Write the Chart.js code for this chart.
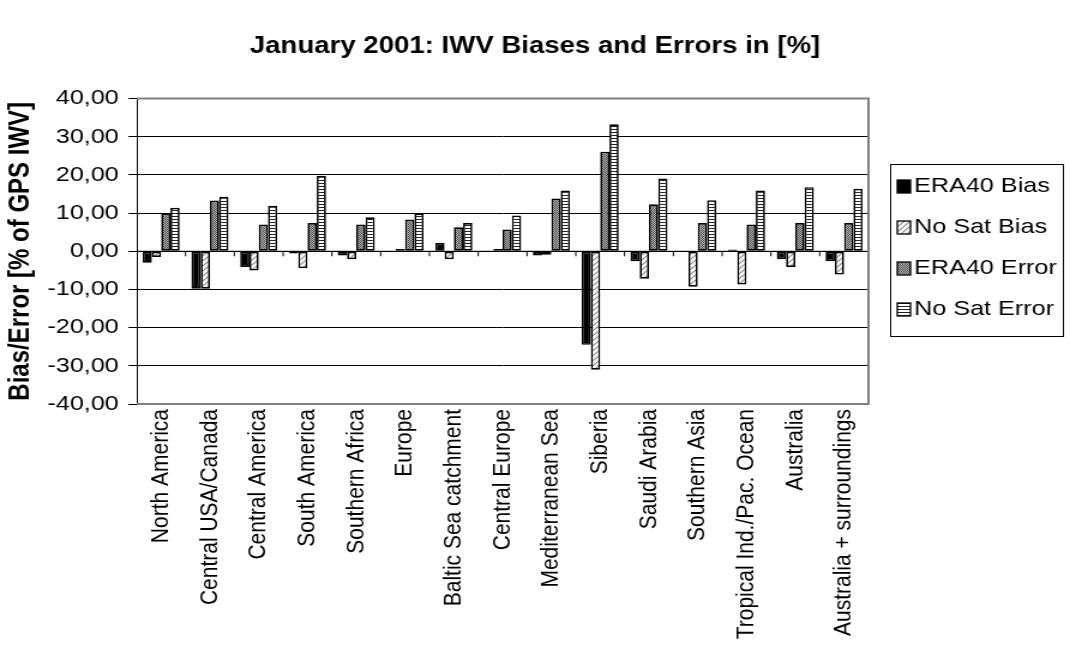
<!DOCTYPE html>
<html>
<head>
<meta charset="utf-8">
<script src="https://cdn.jsdelivr.net/npm/chart.js@4.4.0/dist/chart.umd.min.js"></script>
<style>
  html, body { margin: 0; padding: 0; background: #fff; overflow: hidden; }
  /* the original picture is stretched sideways, so the canvas is too */
  #chart { display: block; transform: scaleX(1.19955); transform-origin: 0 0; }
</style>
</head>
<body>
<canvas id="chart" width="892" height="646"></canvas>
<script>
const categories = [
  'North America', 'Central USA/Canada', 'Central America', 'South America',
  'Southern Africa', 'Europe', 'Baltic Sea catchment', 'Central Europe',
  'Mediterranean Sea', 'Siberia', 'Saudi Arabia', 'Southern Asia',
  'Tropical Ind./Pac. Ocean', 'Australia', 'Australia + surroundings'
];
const seriesNames = ['ERA40 Bias', 'No Sat Bias', 'ERA40 Error', 'No Sat Error'];
const era40Bias  = [-3.0, -9.8, -4.1, -0.6, -1.1, 0.0, 2.2, 0.0, -1.1, -24.5, -2.6, 0.0, 0.5, -2.1, -2.6];
const noSatBias  = [-1.5, -9.8, -5.0, -4.4, -2.1, 0.6, -2.1, 0.6, -0.9, -31.0, -7.2, -9.3, -8.7, -4.1, -6.1];
const era40Error = [9.9, 13.3, 7.0, 7.4, 7.0, 8.3, 6.3, 5.7, 13.8, 26.1, 12.3, 7.4, 7.0, 7.4, 7.4];
const noSatError = [11.4, 14.3, 11.9, 19.8, 8.9, 9.9, 7.4, 9.4, 15.9, 33.3, 19.1, 13.4, 15.9, 16.8, 16.4];
const yTicks = { min: -40, max: 40, step: 10 };

const FONT = 'Arial, "Liberation Sans", sans-serif';
Chart.defaults.font.family = FONT;
Chart.defaults.color = '#000';

// little tiles used as fill patterns
function makePattern(w, h, draw) {
  const c = document.createElement('canvas');
  c.width = w; c.height = h;
  const g = c.getContext('2d');
  draw(g, w, h);
  return g.createPattern(c, 'repeat');
}
const hatch = makePattern(5, 5, function(g, w, h) {
  g.fillStyle = '#fff'; g.fillRect(0, 0, w, h);
  g.strokeStyle = '#8c8c8c'; g.lineWidth = 1.2;
  g.beginPath();
  g.moveTo(-1, h + 1); g.lineTo(w + 1, -1);
  g.moveTo(-1, 1); g.lineTo(1, -1);
  g.moveTo(w - 1, h + 1); g.lineTo(w + 1, h - 1);
  g.stroke();
});
const stipple = makePattern(2, 2, function(g) {
  g.fillStyle = '#a6a6a6'; g.fillRect(0, 0, 2, 2);
  g.fillStyle = '#5c5c5c'; g.fillRect(0, 0, 1, 1); g.fillRect(1, 1, 1, 1);
});
const stripes = makePattern(2, 3, function(g) {
  g.fillStyle = '#fff'; g.fillRect(0, 0, 2, 3);
  g.fillStyle = '#222'; g.fillRect(0, 0, 2, 1);
});
const fills = ['#000', hatch, stipple, stripes];
const values = [era40Bias, noSatBias, era40Error, noSatError];

// zero line with little ticks between categories + grey plot frame
const framePlugin = {
  id: 'frame',
  afterDatasetsDraw(chart) {
    const ctx = chart.ctx, a = chart.chartArea, x = chart.scales.x, y = chart.scales.y;
    const y0 = y.getPixelForValue(0);
    ctx.save();
    ctx.strokeStyle = '#000';
    ctx.lineWidth = 1;
    ctx.beginPath();
    ctx.moveTo(a.left, y0); ctx.lineTo(a.right, y0);
    for (let i = 1; i < categories.length; i++) {
      const bx = (x.getPixelForValue(i - 1) + x.getPixelForValue(i)) / 2;
      ctx.moveTo(bx, y0); ctx.lineTo(bx, y0 + 5);
    }
    ctx.stroke();
    ctx.strokeStyle = '#808080';
    ctx.lineWidth = 2;
    ctx.beginPath();
    ctx.moveTo(a.left, a.top); ctx.lineTo(a.right, a.top);
    ctx.lineTo(a.right, a.bottom); ctx.lineTo(a.left, a.bottom);
    ctx.stroke();
    ctx.restore();
  }
};

// boxed legend on the right, like the excel one
const boxLegend = {
  id: 'boxLegend',
  afterDraw(chart, args, opts) {
    const ctx = chart.ctx;
    ctx.save();
    ctx.fillStyle = '#fff';
    ctx.fillRect(opts.left, opts.top, opts.width, opts.height);
    ctx.strokeStyle = '#000';
    ctx.lineWidth = 1;
    ctx.strokeRect(opts.left + 0.5, opts.top + 0.5, opts.width, opts.height);
    ctx.font = '21px ' + FONT;
    ctx.textBaseline = 'middle';
    chart.data.datasets.forEach(function(ds, i) {
      const cy = opts.top + opts.first + i * opts.gap;
      ctx.fillStyle = ds.backgroundColor;
      ctx.fillRect(opts.left + 6, cy - 6, 11, 13);
      ctx.strokeStyle = '#000';
      ctx.lineWidth = 1.3;
      ctx.strokeRect(opts.left + 6, cy - 6, 11, 13);
      ctx.fillStyle = '#000';
      ctx.fillText(ds.label, opts.left + 20, cy);
    });
    ctx.restore();
  }
};

new Chart(document.getElementById('chart'), {
  type: 'bar',
  data: {
    labels: categories,
    datasets: seriesNames.map(function(name, i) {
      return {
        label: name,
        data: values[i],
        backgroundColor: fills[i],
        borderColor: '#000',
        borderWidth: 1.7,
        borderSkipped: false,
        categoryPercentage: 0.76,
        barPercentage: 1.0
      };
    })
  },
  plugins: [framePlugin, boxLegend],
  options: {
    responsive: false,
    animation: false,
    layout: { padding: { left: 0, right: 0, top: 0, bottom: 0 } },
    plugins: {
      legend: { display: false },
      tooltip: { enabled: false },
      title: {
        display: true,
        text: 'January 2001: IWV Biases and Errors in [%]',
        font: { size: 23, weight: 'bold' },
        color: '#000',
        padding: { top: 33, bottom: 38 }
      },
      boxLegend: { left: 742, top: 164, width: 144, height: 172, first: 22, gap: 41 }
    },
    scales: {
      x: {
        grid: { display: false, drawTicks: false },
        border: { display: false },
        ticks: {
          autoSkip: false, maxRotation: 90, minRotation: 90, padding: 5,
          font: { size: 21 }, color: '#000'
        },
        afterFit: function(scale) { scale.height = 242; }
      },
      y: {
        min: yTicks.min,
        max: yTicks.max,
        grid: {
          color: '#000',
          lineWidth: 1,
          tickLength: 7,
          tickColor: '#000'
        },
        border: { display: true, color: '#000', width: 1 },
        ticks: {
          stepSize: yTicks.step,
          padding: 8,
          font: { size: 21 },
          color: '#000',
          callback: function(v) { return v.toFixed(2).replace('.', ','); }
        },
        title: {
          display: true,
          text: 'Bias/Error [% of GPS IWV]',
          font: { size: 24, weight: 'bold' },
          color: '#000',
          padding: { top: 3, bottom: 0 }
        },
        afterFit: function(scale) { scale.width = 114; }
      },
      // empty scale on the right only keeps room for the legend box
      side: {
        type: 'linear',
        position: 'right',
        grid: { display: false },
        border: { display: false },
        ticks: { display: false },
        afterFit: function(scale) { scale.width = 168; }
      }
    }
  }
});
</script>
</body>
</html>
